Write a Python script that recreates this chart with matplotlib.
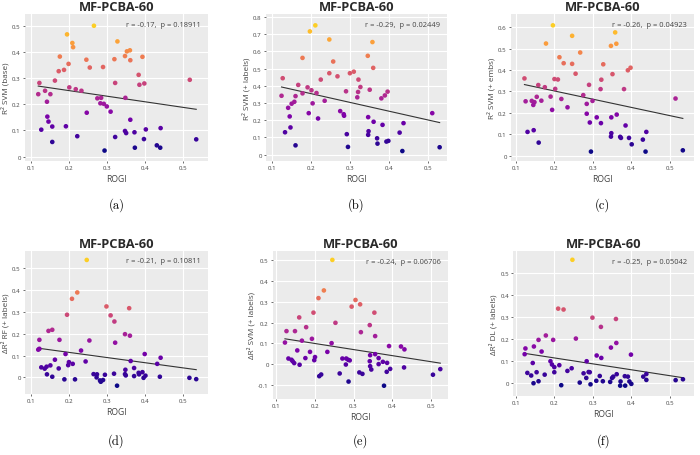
import numpy as np
from matplotlib import pyplot as plt
from matplotlib.colors import Normalize

plt.rcParams["font.family"] = ["Open Sans", "DejaVu Sans"]
plt.rcParams["axes.unicode_minus"] = False

TITLE = "MF-PCBA-60"

# (a) R2 SVM (base)
rogi_a = [0.266, 0.195, 0.209, 0.211, 0.328, 0.353, 0.361, 0.348, 0.362, 0.394,
          0.176, 0.246, 0.320, 0.199, 0.173, 0.187, 0.255, 0.290, 0.384, 0.163,
          0.519, 0.122, 0.322, 0.386, 0.399, 0.201, 0.218, 0.233, 0.137, 0.119,
          0.151, 0.142, 0.275, 0.285, 0.349, 0.283, 0.292, 0.300, 0.310, 0.247,
          0.143, 0.146, 0.362, 0.156, 0.192, 0.442, 0.403, 0.127, 0.348, 0.351,
          0.373, 0.222, 0.322, 0.398, 0.156, 0.432, 0.441, 0.374, 0.294, 0.536]
score_a = [0.501, 0.468, 0.435, 0.419, 0.441, 0.403, 0.407, 0.385, 0.369, 0.382,
           0.383, 0.371, 0.373, 0.355, 0.327, 0.332, 0.341, 0.343, 0.313, 0.291,
           0.294, 0.282, 0.282, 0.275, 0.280, 0.265, 0.258, 0.252, 0.252, 0.239,
           0.239, 0.210, 0.223, 0.225, 0.225, 0.204, 0.202, 0.192, 0.172, 0.168,
           0.153, 0.134, 0.141, 0.115, 0.116, 0.109, 0.104, 0.103, 0.098, 0.090,
           0.093, 0.078, 0.075, 0.067, 0.056, 0.043, 0.034, 0.034, 0.023, 0.066]

# (b) R2 SVM (+ labels)
rogi_b = [0.124, 0.127, 0.133, 0.141, 0.145, 0.147, 0.150, 0.157, 0.160, 0.160,
          0.167, 0.178, 0.178, 0.191, 0.194, 0.197, 0.201, 0.204, 0.211, 0.214,
          0.218, 0.225, 0.235, 0.247, 0.247, 0.257, 0.268, 0.275, 0.284, 0.285,
          0.290, 0.292, 0.295, 0.300, 0.310, 0.319, 0.321, 0.322, 0.327, 0.346,
          0.347, 0.348, 0.347, 0.351, 0.358, 0.360, 0.361, 0.370, 0.371, 0.384,
          0.381, 0.390, 0.394, 0.399, 0.397, 0.428, 0.435, 0.438, 0.512, 0.531]
score_b = [0.342, 0.444, 0.130, 0.272, 0.222, 0.158, 0.296, 0.307, 0.340, 0.054,
           0.405, 0.562, 0.356, 0.391, 0.241, 0.716, 0.374, 0.298, 0.751, 0.358,
           0.210, 0.436, 0.313, 0.473, 0.669, 0.541, 0.455, 0.253, 0.235, 0.226,
           0.368, 0.119, 0.045, 0.473, 0.482, 0.333, 0.364, 0.436, 0.393, 0.574,
           0.218, 0.136, 0.115, 0.377, 0.654, 0.504, 0.191, 0.095, 0.064, 0.173,
           0.327, 0.344, 0.076, 0.080, 0.366, 0.128, 0.021, 0.183, 0.241, 0.043]

# (c) R2 SVM (+ embs)
rogi_c = [0.196, 0.358, 0.246, 0.178, 0.361, 0.347, 0.267, 0.213, 0.224, 0.246,
          0.327, 0.398, 0.391, 0.255, 0.351, 0.122, 0.200, 0.209, 0.322, 0.158,
          0.290, 0.175, 0.202, 0.320, 0.381, 0.275, 0.154, 0.190, 0.515, 0.218,
          0.125, 0.141, 0.166, 0.148, 0.145, 0.299, 0.284, 0.234, 0.194, 0.284,
          0.362, 0.310, 0.348, 0.292, 0.321, 0.385, 0.146, 0.130, 0.439, 0.348,
          0.347, 0.371, 0.373, 0.394, 0.430, 0.159, 0.401, 0.295, 0.437, 0.534]
score_c = [0.609, 0.576, 0.560, 0.524, 0.523, 0.513, 0.482, 0.460, 0.432, 0.429,
           0.427, 0.411, 0.399, 0.383, 0.381, 0.361, 0.358, 0.356, 0.355, 0.330,
           0.331, 0.320, 0.312, 0.311, 0.311, 0.283, 0.275, 0.276, 0.267, 0.265,
           0.254, 0.256, 0.257, 0.250, 0.237, 0.256, 0.242, 0.226, 0.214, 0.196,
           0.192, 0.179, 0.179, 0.155, 0.152, 0.141, 0.119, 0.111, 0.111, 0.105,
           0.089, 0.088, 0.083, 0.083, 0.075, 0.061, 0.053, 0.019, 0.019, 0.025]

# (d) delta R2 RF (+ labels)
rogi_d = [0.247, 0.222, 0.208, 0.299, 0.359, 0.195, 0.310, 0.320, 0.348, 0.361,
          0.156, 0.146, 0.122, 0.175, 0.254, 0.322, 0.119, 0.122, 0.232, 0.191,
          0.400, 0.442, 0.244, 0.363, 0.163, 0.200, 0.198, 0.210, 0.433, 0.151,
          0.127, 0.141, 0.136, 0.173, 0.372, 0.349, 0.142, 0.156, 0.188, 0.216,
          0.265, 0.274, 0.284, 0.290, 0.295, 0.282, 0.319, 0.327, 0.348, 0.350,
          0.372, 0.384, 0.385, 0.394, 0.397, 0.402, 0.440, 0.518, 0.536, 0.273]
score_d = [0.538, 0.389, 0.360, 0.325, 0.317, 0.287, 0.284, 0.256, 0.198, 0.191,
           0.218, 0.213, 0.172, 0.172, 0.169, 0.159, 0.127, 0.131, 0.123, 0.107,
           0.107, 0.090, 0.073, 0.075, 0.081, 0.070, 0.056, 0.062, 0.062, 0.055,
           0.046, 0.049, 0.040, 0.041, 0.043, 0.035, 0.014, 0.003, -0.009, -0.009,
           0.015, 0.014, -0.020, -0.012, 0.012, -0.014, 0.017, -0.038, 0.015, 0.009,
           0.006, 0.021, 0.014, 0.024, -0.002, 0.008, 0.003, -0.002, -0.008, 0.000]

# (e) delta R2 SVM (+ labels)
rogi_e = [0.245, 0.223, 0.209, 0.305, 0.317, 0.295, 0.354, 0.196, 0.159, 0.253,
          0.342, 0.177, 0.126, 0.148, 0.319, 0.356, 0.166, 0.192, 0.122, 0.243,
          0.392, 0.423, 0.432, 0.154, 0.187, 0.232, 0.343, 0.356, 0.131, 0.139,
          0.142, 0.146, 0.160, 0.175, 0.200, 0.198, 0.271, 0.281, 0.286, 0.290,
          0.280, 0.264, 0.211, 0.216, 0.287, 0.315, 0.323, 0.342, 0.343, 0.346,
          0.365, 0.376, 0.365, 0.387, 0.386, 0.395, 0.379, 0.431, 0.506, 0.525]
score_e = [0.502, 0.355, 0.318, 0.309, 0.288, 0.277, 0.248, 0.248, 0.225, 0.199,
           0.188, 0.178, 0.159, 0.159, 0.154, 0.135, 0.113, 0.122, 0.104, 0.101,
           0.087, 0.085, 0.071, 0.066, 0.059, 0.059, 0.043, 0.048, 0.027, 0.021,
           0.014, 0.005, -0.003, 0.029, 0.034, 0.019, 0.027, 0.027, 0.021, 0.018,
           -0.002, -0.045, -0.058, -0.050, -0.084, -0.040, -0.047, 0.014, -0.010, -0.026,
           0.029, 0.011, 0.000, 0.006, -0.037, -0.023, -0.104, -0.016, -0.051, -0.024]

# (f) delta R2 DL (+ labels)
rogi_f = [0.247, 0.210, 0.224, 0.299, 0.360, 0.321, 0.178, 0.256, 0.159, 0.197,
          0.361, 0.347, 0.147, 0.125, 0.167, 0.123, 0.399, 0.310, 0.322, 0.190,
          0.284, 0.194, 0.213, 0.144, 0.200, 0.245, 0.234, 0.130, 0.154, 0.200,
          0.140, 0.175, 0.276, 0.289, 0.292, 0.283, 0.318, 0.326, 0.362, 0.350,
          0.353, 0.345, 0.372, 0.371, 0.384, 0.391, 0.395, 0.400, 0.431, 0.439,
          0.439, 0.146, 0.159, 0.218, 0.266, 0.294, 0.515, 0.534, 0.383, 0.309]
score_f = [0.558, 0.336, 0.332, 0.295, 0.289, 0.253, 0.214, 0.200, 0.194, 0.194,
           0.180, 0.159, 0.164, 0.155, 0.141, 0.129, 0.127, 0.123, 0.112, 0.097,
           0.097, 0.082, 0.079, 0.089, 0.070, 0.065, 0.053, 0.044, 0.047, 0.047,
           0.032, 0.036, 0.042, 0.048, 0.047, 0.021, 0.030, 0.006, 0.038, 0.021,
           0.027, 0.003, 0.005, -0.014, -0.014, 0.027, 0.005, -0.006, 0.027, 0.039,
           0.012, -0.003, 0.006, -0.012, 0.000, -0.008, 0.011, 0.015, 0.029, 0.008]

panels = [
    ("(a)", rogi_a, score_a, "R² SVM (base)", "r = -0.17,  p = 0.18911",
     [0.0357, 0.6447, 0.2614, 0.3224], (0.084, 0.567), (-0.017, 0.546),
     [0, 0.1, 0.2, 0.3, 0.4, 0.5]),
    ("(b)", rogi_b, score_b, "R² SVM (+ labels)", "r = -0.29,  p = 0.02449",
     [0.380, 0.6447, 0.2586, 0.3224], (0.084, 0.550), (-0.037, 0.817),
     [0, 0.1, 0.2, 0.3, 0.4, 0.5, 0.6, 0.7, 0.8]),
    ("(c)", rogi_c, score_c, "R² SVM (+ embs)", "r = -0.26,  p = 0.04923",
     [0.730, 0.6447, 0.2614, 0.3224], (0.087, 0.563), (-0.025, 0.662),
     [0, 0.1, 0.2, 0.3, 0.4, 0.5, 0.6]),
    ("(d)", rogi_d, score_d, "ΔR² RF (+ labels)", "r = -0.21,  p = 0.10811",
     [0.0357, 0.1338, 0.2614, 0.3136], (0.084, 0.567), (-0.076, 0.579),
     [0, 0.1, 0.2, 0.3, 0.4, 0.5]),
    ("(e)", rogi_e, score_e, "ΔR² SVM (+ labels)", "r = -0.24,  p = 0.06706",
     [0.390, 0.1228, 0.250, 0.3246], (0.091, 0.545), (-0.168, 0.545),
     [-0.1, 0, 0.1, 0.2, 0.3, 0.4, 0.5]),
    ("(f)", rogi_f, score_f, "ΔR² DL (+ labels)", "r = -0.25,  p = 0.05042",
     [0.733, 0.1294, 0.2586, 0.318], (0.093, 0.563), (-0.061, 0.598),
     [0, 0.1, 0.2, 0.3, 0.4, 0.5]),
]


def tick_fmt(v):
    return "0" if abs(v) < 1e-9 else f"{v:g}"


def draw_panel(fig, caption, x, y, ylabel, stats, rect, xlim, ylim, yticks):
    x = np.asarray(x)
    y = np.asarray(y)
    ax = fig.add_axes(rect)
    ax.set_facecolor("#EBEBEB")
    for side in ax.spines.values():
        side.set_visible(False)

    ymin, ymax = y.min(), y.max()
    norm = Normalize(vmin=ymin, vmax=ymin + (ymax - ymin) / 0.9)
    ax.scatter(x, y, c=y, cmap="plasma", norm=norm, s=11, linewidths=0, zorder=3)

    slope, intercept = np.polyfit(x, y, 1)
    xs = np.array([x.min(), x.max()])
    ax.plot(xs, slope * xs + intercept, color="#333333", lw=0.8, zorder=2)

    ax.set_xlim(*xlim)
    ax.set_ylim(*ylim)
    xticks = [0.1, 0.2, 0.3, 0.4, 0.5]
    ax.set_xticks(xticks)
    ax.set_xticklabels([tick_fmt(v) for v in xticks])
    ax.set_yticks(yticks)
    ax.set_yticklabels([tick_fmt(v) for v in yticks])
    ax.grid(True, color="white", lw=0.8)
    ax.set_axisbelow(True)
    ax.tick_params(length=1.5, width=0.6, color="#555555", labelsize=4.4,
                   labelcolor="#444444", pad=1.5)

    ax.set_title(TITLE, fontsize=9.3, fontweight="bold", color="#2a2a2a", pad=3)
    ax.set_xlabel("ROGI", fontsize=6.2, color="#444444", labelpad=3)
    ax.set_ylabel(ylabel, fontsize=5.9, color="#444444", labelpad=2)
    ax.text(0.96, 0.955, stats, transform=ax.transAxes, ha="right", va="top",
            fontsize=5.4, color="#444444")

    # subfigure caption below each panel, in figure coordinates
    cap_y = 0.551 if rect[1] > 0.5 else 0.033
    fig.text(rect[0] + rect[2] / 2, cap_y, caption, ha="center", va="center",
             fontsize=9, family="cmr10")
    return ax


fig = plt.figure(figsize=(7, 4.56), dpi=100)
for p in panels:
    draw_panel(fig, *p)

fig.savefig("out.png", dpi=100)
